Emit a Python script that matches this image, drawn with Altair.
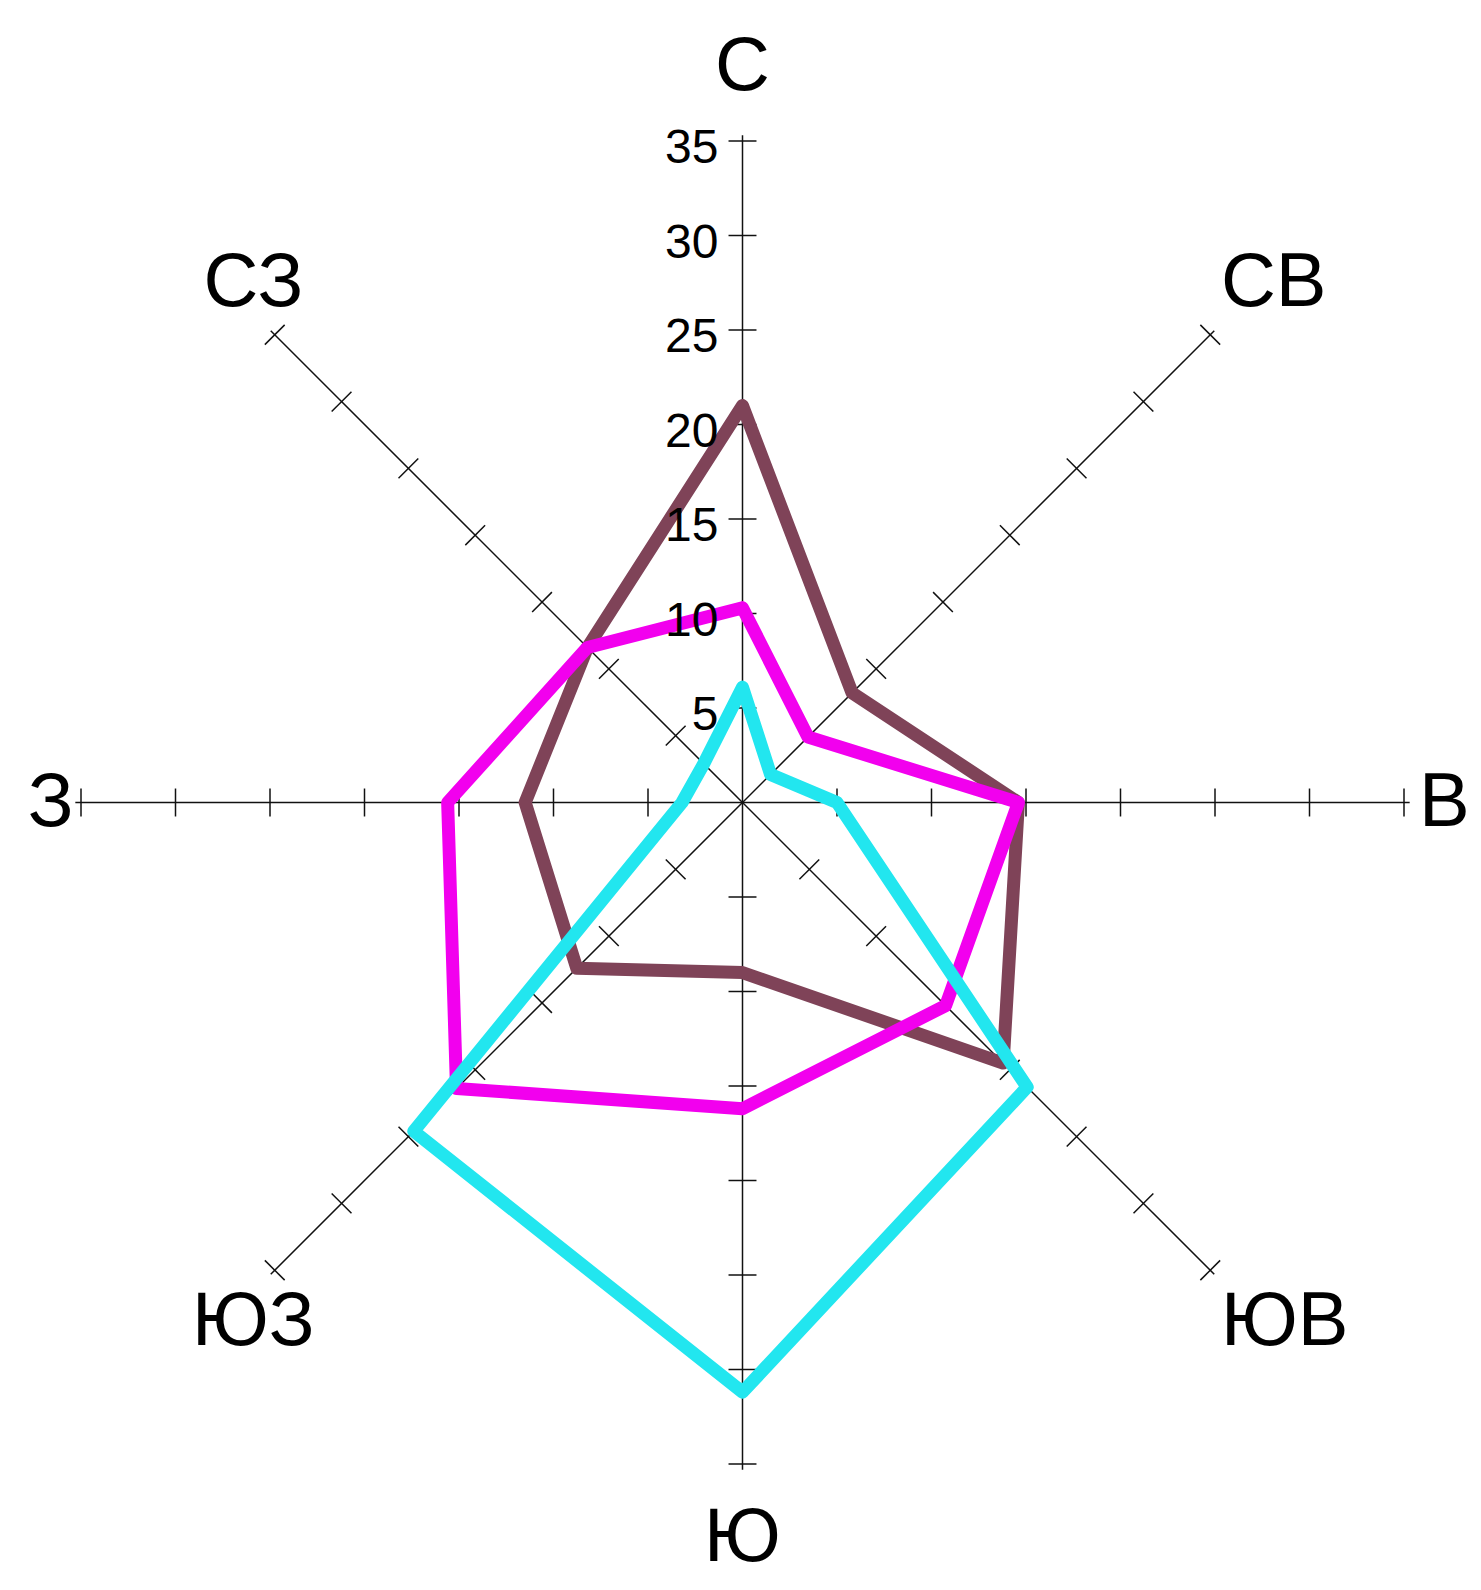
import altair as alt
import pandas as pd

# ---------------- data ----------------
directions = ["С", "СВ", "В", "ЮВ", "Ю", "ЮЗ", "З", "СЗ"]
series_names = ["Ряд 1", "Ряд 2", "Ряд 3"]
series_brown = [21.0, 8.2, 14.6, 19.5, 9.0, 12.4, 11.5, 11.6]
series_magenta = [10.3, 4.9, 14.6, 15.2, 16.2, 21.4, 15.6, 11.6]
series_cyan = [6.1, 2.1, 5.0, 21.3, 31.2, 24.6, 3.2, 2.9]
tick_values = [5, 10, 15, 20, 25, 30, 35]
series_colors = ["#7f4358", "#f200ee", "#22e6ef"]

MAX = 35
n = len(directions)
step = 360 / n

dir_df = pd.DataFrame({"dir": directions, "angle": [i * step for i in range(n)]})

rows = []
for s, vals in zip(series_names, [series_brown, series_magenta, series_cyan]):
    for k in range(n + 1):
        i = k % n
        rows.append({"series": s, "dir": directions[i], "angle": i * step,
                     "value": vals[i], "order": k})
line_df = pd.DataFrame(rows)

tick_rows = [{"dir": d, "angle": i * step, "v": v}
             for i, d in enumerate(directions) for v in tick_values]
tick_df = pd.DataFrame(tick_rows)
tick_label_df = pd.DataFrame({"v": tick_values, "label": [str(v) for v in tick_values]})

# ---------------- chart ----------------
W = 1323
FONT = "Liberation Sans"
AX_COLOR = "#111111"
RAD = "datum.angle * PI / 180"
HALF_TICK = 0.74

xs = alt.Scale(domain=[-MAX, MAX], nice=False, zero=False)
ys = alt.Scale(domain=[-MAX, MAX], nice=False, zero=False)


def X(f):
    return alt.X(f, type="quantitative", scale=xs, axis=None)


def Y(f):
    return alt.Y(f, type="quantitative", scale=ys, axis=None)


spokes = alt.Chart(dir_df).transform_calculate(
    x0="0", y0="0",
    x1=f"{MAX + 0.3} * sin({RAD})", y1=f"{MAX + 0.3} * cos({RAD})",
).mark_rule(color=AX_COLOR, strokeWidth=1.5).encode(
    x=X("x0"), y=Y("y0"), x2="x1:Q", y2="y1:Q"
)

ticks = alt.Chart(tick_df).transform_calculate(
    cx=f"datum.v * sin({RAD})", cy=f"datum.v * cos({RAD})",
).transform_calculate(
    xa=f"datum.cx - {HALF_TICK} * cos({RAD})", ya=f"datum.cy + {HALF_TICK} * sin({RAD})",
    xb=f"datum.cx + {HALF_TICK} * cos({RAD})", yb=f"datum.cy - {HALF_TICK} * sin({RAD})",
).mark_rule(color=AX_COLOR, strokeWidth=1.5).encode(
    x=X("xa"), y=Y("ya"), x2="xb:Q", y2="yb:Q"
)

line_layers = []
for s, c in zip(series_names, series_colors):
    line_layers.append(
        alt.Chart(line_df).transform_filter(alt.datum.series == s).transform_calculate(
            x=f"datum.value * sin({RAD})", y=f"datum.value * cos({RAD})",
        ).mark_line(color=c, strokeWidth=13, strokeJoin="round", strokeCap="round").encode(
            x=X("x"), y=Y("y"), order="order:Q"
        )
    )

tick_labels = alt.Chart(tick_label_df).transform_calculate(
    x="0", y="datum.v"
).mark_text(align="right", baseline="middle", dx=-24, dy=8, fontSize=48,
            font=FONT, color="black").encode(
    x=X("x"), y=Y("y"), text="label:N"
)

LRX_RIGHT = 35.8
LRX = 36.6
LRY = 38.9
DIR_FONT = 76
dir_right = alt.Chart(dir_df).transform_filter(f"sin({RAD}) > 0.3").transform_calculate(
    x=f"{LRX_RIGHT} * sin({RAD})", y=f"{LRY} * cos({RAD})"
).mark_text(align="left", baseline="middle", fontSize=DIR_FONT, font=FONT, color="black").encode(
    x=X("x"), y=Y("y"), text="dir:N"
)
dir_other = alt.Chart(dir_df).transform_filter(f"sin({RAD}) <= 0.3").transform_calculate(
    x=f"{LRX} * sin({RAD})", y=f"{LRY} * cos({RAD})"
).mark_text(align="center", baseline="middle", fontSize=DIR_FONT, font=FONT, color="black").encode(
    x=X("x"), y=Y("y"), text="dir:N"
)

chart = alt.layer(spokes, ticks, *line_layers, tick_labels, dir_right, dir_other).properties(
    width=W, height=W,
    autosize=alt.AutoSizeParams(type="none"),
    padding={"left": 73, "top": 133, "right": 69, "bottom": 118},
    background="white",
).configure_view(stroke=None)

chart.save("out.html", embed_options={"renderer": "svg", "actions": False})
